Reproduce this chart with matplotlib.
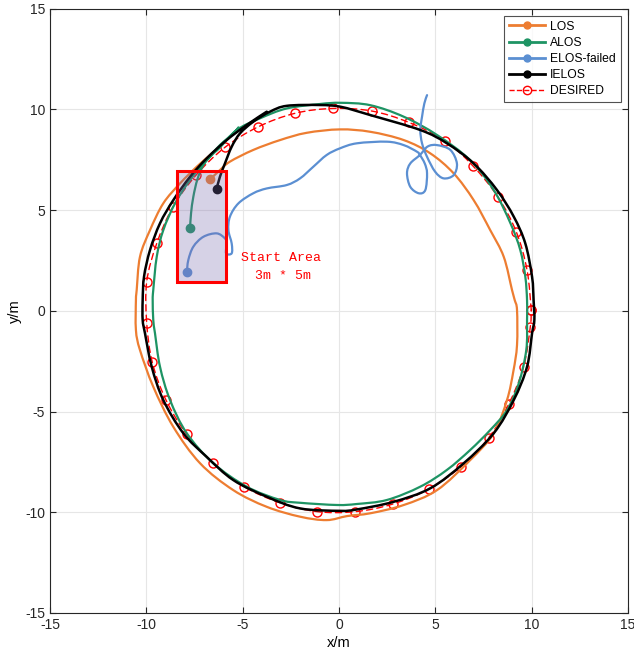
import matplotlib
matplotlib.use("Agg")
import matplotlib.pyplot as plt
from matplotlib.lines import Line2D
from matplotlib.patches import Rectangle, PathPatch
from matplotlib.path import Path

plt.rcParams['font.family'] = ['Liberation Sans', 'DejaVu Sans']
plt.rcParams['axes.unicode_minus'] = False

# trajectories (x, y in metres)
los_x = [-6.69, -6.18, -5.66, -4.45, -3.06, -1.68, 0.05, 1.63, 3.36, 4.74, 5.95, 6.99, 7.85, 8.55,
         8.98, 9.12, 9.24, 9.24, 9.05, 8.72, 8.03, 6.81, 5.09, 3.36, 1.63, 0.42, -0.64, -2.02,
         -3.75, -5.49, -7.21, -8.60, -9.64, -10.33, -10.54, -10.54, -10.50, -10.33, -9.81,
         -9.12, -8.25, -7.38, -6.69, -6.50]
los_y = [6.52, 6.98, 7.40, 7.98, 8.47, 8.83, 9.00, 8.88, 8.47, 7.81, 6.82, 5.49, 4.00, 2.68,
         1.03, 0.53, 0.03, -1.70, -3.00, -4.43, -6.08, -7.41, -8.90, -9.64, -10.05, -10.19,
         -10.39, -10.22, -9.73, -8.90, -7.57, -5.76, -3.77, -1.95, -0.96, 0.53, 1.03, 2.68,
         4.00, 5.33, 6.32, 7.15, 7.73, 7.90]

alos_x = [-7.73, -7.68, -7.56, -7.35, -7.04, -6.60, -6.18, -5.31, -4.10, -2.71, -0.99, 0.10,
          1.63, 3.36, 5.09, 6.80, 8.03, 8.90, 9.41, 9.67, 9.76, 9.76, 9.72, 9.33, 8.72, 7.85,
          6.81, 5.60, 4.22, 2.49, 0.93, -0.10, -2.02, -3.06, -4.79, -6.52, -7.90, -8.77,
          -9.29, -9.55, -9.64, -9.67, -9.64, -9.46, -9.12, -8.51, -7.73, -6.87, -6.18, -5.49,
          -5.22]
alos_y = [4.09, 4.83, 5.66, 6.52, 7.23, 7.73, 8.10, 8.97, 9.55, 10.04, 10.26, 10.32, 10.20,
          9.63, 8.72, 7.48, 5.99, 4.34, 3.01, 1.69, 0.53, -0.46, -1.95, -3.60, -4.93, -5.92,
          -6.91, -7.90, -8.73, -9.39, -9.59, -9.64, -9.53, -9.39, -8.73, -7.57, -6.08, -4.43,
          -2.78, -1.12, -0.46, 0.53, 1.03, 2.68, 4.00, 5.33, 6.49, 7.48, 8.22, 8.80, 9.10]

elos_x = [-7.90, -7.82, -7.56, -7.04, -6.35, -5.92, -5.83, -5.86, -5.57, -5.57, -5.74, -5.66,
          -5.22, -4.45, -3.75, -2.71, -2.02, -1.33, -0.64, 0.05, 0.93, 2.49, 3.36, 4.05, 4.20,
          4.45, 4.57, 4.48, 4.14, 3.70, 3.53, 3.70, 4.20, 4.60, 5.09, 5.78, 6.12, 5.95, 5.43,
          4.99, 4.57, 4.31, 4.22, 4.31, 4.43, 4.57]
elos_y = [1.90, 2.52, 3.18, 3.67, 3.84, 3.59, 3.34, 2.85, 2.85, 3.34, 4.00, 4.67, 5.33, 5.83,
          6.07, 6.24, 6.57, 7.15, 7.73, 8.06, 8.31, 8.39, 8.22, 7.89, 7.73, 7.31, 6.82, 5.99,
          5.83, 6.15, 6.82, 7.31, 7.73, 8.15, 8.22, 7.98, 7.31, 6.73, 6.57, 6.90, 7.64, 8.31,
          8.97, 9.63, 10.29, 10.70]

ielos_x = [-6.35, -6.18, -5.92, -5.57, -5.14, -4.45, -3.58, -2.71, -0.99, 0.10, 1.63, 4.22,
           5.60, 6.99, 8.20, 9.07, 9.67, 10.02, 10.10, 10.14, 10.02, 9.76, 9.07, 8.03, 6.47,
           4.74, 2.84, 0.93, 0.05, -2.02, -3.75, -5.49, -6.87, -8.08, -9.12, -9.72, -10.07,
           -10.19, -10.19, -10.12, -9.81, -9.29, -8.60, -7.73, -6.87, -5.83, -4.79, -3.75]
ielos_y = [6.05, 6.65, 7.31, 8.14, 8.80, 9.38, 9.88, 10.17, 10.21, 10.12, 9.71, 8.97, 8.31,
           7.31, 5.99, 4.67, 3.34, 1.69, 0.53, -0.46, -1.12, -2.78, -4.43, -6.08, -7.57,
           -8.81, -9.48, -9.86, -9.93, -9.81, -9.23, -8.40, -7.25, -6.08, -4.43, -2.78, -1.12,
           -0.46, 0.53, 1.69, 3.01, 4.34, 5.49, 6.65, 7.56, 8.47, 9.22, 9.88]

# desired circle, sampled at the red markers
des_x = [9.98, 9.76, 9.20, 8.24, 6.94, 5.50, 3.62, 1.71, -0.30, -2.28, -4.19, -5.92, -7.42,
         -8.63, -9.46, -9.98, -9.98, -9.69, -8.98, -7.90, -6.52, -4.93, -3.06, -1.13, 0.85,
         2.80, 4.65, 6.33, 7.77, 8.80, 9.58, 9.93, 9.98]
des_y = [0.03, 2.02, 3.92, 5.66, 7.20, 8.44, 9.35, 9.91, 10.04, 9.80, 9.13, 8.11, 6.73, 5.13,
         3.34, 1.44, -0.60, -2.56, -4.43, -6.14, -7.57, -8.73, -9.53, -9.97, -9.97, -9.59,
         -8.86, -7.74, -6.30, -4.65, -2.78, -0.79, 0.03]

# start area box: x0, y0, width, height
start_box = [-8.42, 1.41, 2.56, 5.52]

names = ['LOS', 'ALOS', 'ELOS-failed', 'IELOS', 'DESIRED']
colors = ['#ED7D31', '#1E9464', '#5B8FD2', 'black', 'red']


def smooth_path(xs, ys):
    # bezier path through every point (catmull-rom style handles)
    pts = list(zip(xs, ys))
    verts = [pts[0]]
    codes = [Path.MOVETO]
    n = len(pts)
    for i in range(n - 1):
        p0 = pts[max(i - 1, 0)]
        p1 = pts[i]
        p2 = pts[i + 1]
        p3 = pts[min(i + 2, n - 1)]
        c1 = (p1[0] + (p2[0] - p0[0]) / 6, p1[1] + (p2[1] - p0[1]) / 6)
        c2 = (p2[0] - (p3[0] - p1[0]) / 6, p2[1] - (p3[1] - p1[1]) / 6)
        verts += [c1, c2, p2]
        codes += [Path.CURVE4] * 3
    return Path(verts, codes)


def draw_track(ax, xs, ys, color, lw, z, **kw):
    ax.add_patch(PathPatch(smooth_path(xs, ys), facecolor='none', edgecolor=color,
                           lw=lw, zorder=z, capstyle='round', joinstyle='round', **kw))


fig = plt.figure(figsize=(6.34, 6.58), dpi=100)
ax = fig.add_axes([50 / 634, 45 / 658, 578 / 634, 604.5 / 658])

draw_track(ax, des_x, des_y, 'red', 1.0, 2, linestyle=(0, (4.5, 3)))
ax.plot(des_x, des_y, 'o', color='red', ms=6.5, mfc='none', mew=1.0, zorder=2)
draw_track(ax, los_x, los_y, colors[0], 1.6, 3)
draw_track(ax, alos_x, alos_y, colors[1], 1.6, 3)
draw_track(ax, elos_x, elos_y, colors[2], 1.6, 3)
draw_track(ax, ielos_x, ielos_y, colors[3], 1.8, 4)

# start points
for xs, ys, c in [(los_x, los_y, colors[0]), (alos_x, alos_y, colors[1]),
                  (elos_x, elos_y, colors[2]), (ielos_x, ielos_y, colors[3])]:
    ax.plot(xs[0], ys[0], 'o', color=c, ms=6, zorder=5)

ax.add_patch(Rectangle((start_box[0], start_box[1]), start_box[2], start_box[3],
                       facecolor=(0.48, 0.42, 0.68), alpha=0.3, edgecolor='none', zorder=6))
ax.add_patch(Rectangle((start_box[0], start_box[1]), start_box[2], start_box[3],
                       facecolor='none', edgecolor='red', lw=2.2, zorder=7))
ax.text(-3.0, 2.63, 'Start Area', color='red', family='Liberation Mono', fontsize=9.5,
        ha='center', va='center')
ax.text(-2.9, 1.72, '3m * 5m', color='red', family='Liberation Mono', fontsize=9.5,
        ha='center', va='center')

ax.set_xlim(-15, 15)
ax.set_ylim(-15, 15)
ax.set_xticks(range(-15, 16, 5))
ax.set_yticks(range(-15, 16, 5))
ax.grid(True, color='#e6e6e6', lw=0.8)
ax.set_axisbelow(True)
ax.tick_params(direction='in', top=True, right=True, labelsize=10, length=4, colors='#262626')
for s in ax.spines.values():
    s.set_color('#262626')
    s.set_linewidth(0.8)
ax.set_xlabel('x/m', fontsize=10.5, labelpad=3)
ax.set_ylabel('y/m', fontsize=10.5, labelpad=2)

handles = [Line2D([], [], color=colors[i], lw=2, marker='o', ms=5) for i in range(4)]
handles.append(Line2D([], [], color='red', lw=1, ls='--', marker='o', ms=6, mfc='none'))
leg = ax.legend(handles, names, loc='upper right', fontsize=8.7, frameon=True, fancybox=False,
                edgecolor='#262626', borderaxespad=0.6, handlelength=3.0, labelspacing=0.35,
                handletextpad=0.4, borderpad=0.4)
leg.get_frame().set_linewidth(0.8)

fig.savefig('out.png', dpi=100)
